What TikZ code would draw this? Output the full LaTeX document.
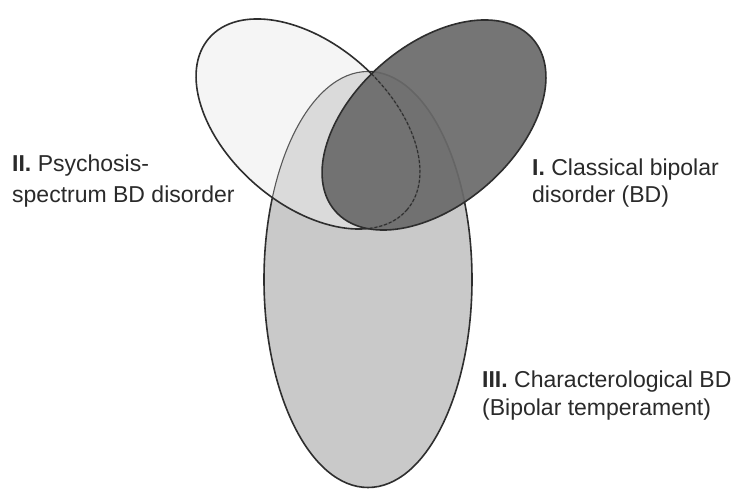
\documentclass[tikz,border=0pt]{standalone}
\usepackage{fontspec}
\setmainfont{Liberation Sans}
\begin{document}
\begin{tikzpicture}[x=1pt,y=1pt]
\definecolor{cII}{HTML}{F5F5F5}
\definecolor{cIII}{HTML}{C9C9C9}
\definecolor{cIIIb}{HTML}{DADADA}
\definecolor{cI}{HTML}{6A6A6A}
\definecolor{lineC}{HTML}{2E2E2E}
\definecolor{txtC}{HTML}{2A2A2A}
\tikzset{
  ellII/.style={rotate around={-41:(308,365)}},
  ellI/.style={rotate around={41:(434,364)}},
  outl/.style={draw=lineC, line width=1.6pt},
  thinl/.style={draw=lineC!80, line width=1.1pt},
  dashl/.style={draw=lineC, line width=1.1pt, dash pattern=on 3pt off 2pt},
  lbl/.style={inner sep=0pt, anchor=base west, text=txtC, font=\fontsize{23}{28}\selectfont}
}
\useasboundingbox (0,0) rectangle (733,489);
\fill[white] (0,0) rectangle (733,489);
% II light ellipse
\fill[cII, ellII] (308,365) ellipse [x radius=131pt, y radius=80pt];
% III vertical ellipse
\fill[cIII] (368,209.5) ellipse [x radius=104pt, y radius=208pt];
\draw[outl] (368,209.5) ellipse [x radius=104pt, y radius=208pt];
\begin{scope}
  \clip[ellII] (308,365) ellipse [x radius=131pt, y radius=80pt];
  \fill[cII] (0,0) rectangle (733,489);
  \fill[cIIIb] (368,209.5) ellipse [x radius=104pt, y radius=208pt];
  \draw[thinl] (368,209.5) ellipse [x radius=104pt, y radius=208pt];
\end{scope}
\draw[outl, ellII] (308,365) ellipse [x radius=131pt, y radius=80pt];
% I dark ellipse
\fill[cI, fill opacity=0.92, ellI] (434,364) ellipse [x radius=131pt, y radius=80pt];
\begin{scope}
  \clip[ellI] (434,364) ellipse [x radius=131pt, y radius=80pt];
  \draw[dashl, ellII] (308,365) ellipse [x radius=131pt, y radius=80pt];
\end{scope}
\draw[outl, ellI] (434,364) ellipse [x radius=131pt, y radius=80pt];
% labels
\node[lbl] (IIa) at (12,317) {\textbf{II.} Psychosis-};
\node[lbl] (IIb) at (12,286) {spectrum BD disorder};
\node[lbl] (Ia) at (532,313) {\textbf{I.} Classical bipolar};
\node[lbl] (Ib) at (532,286) {disorder (BD)};
\node[lbl] (IIIa) at (482,101) {\textbf{III.} Characterological BD};
\node[lbl] (IIIb) at (482,73) {(Bipolar temperament)};
\end{tikzpicture}
\end{document}
